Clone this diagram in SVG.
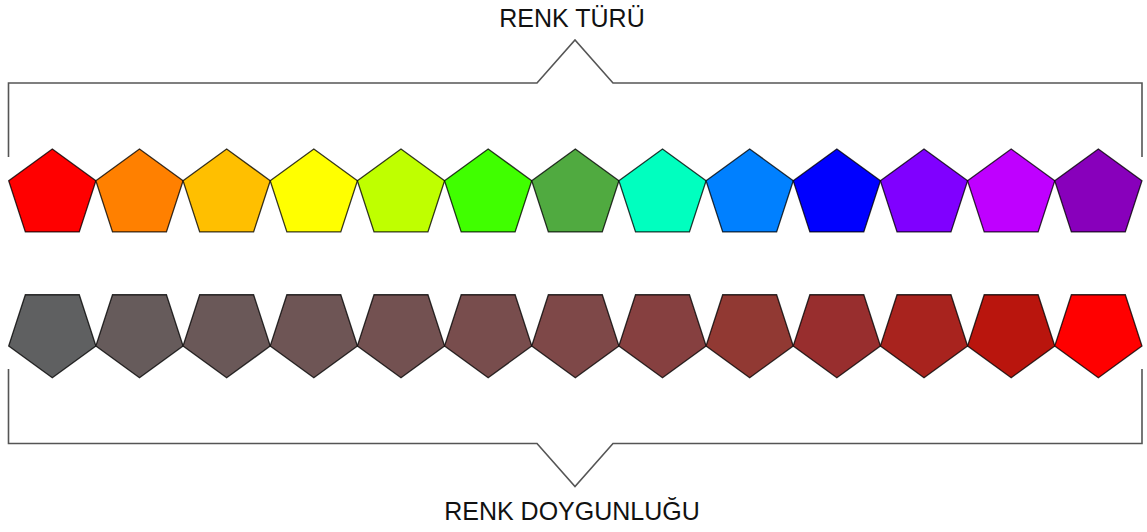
<svg xmlns="http://www.w3.org/2000/svg" xmlns:xlink="http://www.w3.org/1999/xlink" width="1147" height="532" viewBox="0 0 1147 532">
  <style>
    .pent { stroke: #000; stroke-opacity: 0.78; stroke-width: 1.3; stroke-linejoin: miter; }
    .brk { fill: none; stroke: #555; stroke-width: 1.6; }
    .lbl { font-family: "Liberation Sans", Arial, sans-serif; font-size: 25px; fill: #111; text-anchor: middle; }
  </style>
  <defs>
    <path id="up" d="M0,-45.85 L43.61,-14.17 L26.95,37.09 L-26.95,37.09 L-43.61,-14.17 Z"/>
    <path id="down" d="M0,45.85 L43.61,14.17 L26.95,-37.09 L-26.95,-37.09 L-43.61,14.17 Z"/>
  </defs>
  <rect width="1147" height="532" fill="#fff"/>

  <g id="connectors">
    <path class="brk" d="M8.5,157 V83 H537 L575,40 L613,83 H1142 V157"/>
    <path class="brk" d="M8.5,369 V443.5 H537 L575,486.5 L613,443.5 H1142 V369"/>
  </g>

  <g id="label-top"><text class="lbl" x="572" y="27">RENK TÜRÜ</text></g>
  <g id="label-bottom"><text class="lbl" x="572" y="520">RENK DOYGUNLUĞU</text></g>

  <g id="hue-row">
    <g id="hue1"><use xlink:href="#up" class="pent" fill="#ff0000" x="52.3" y="194.85"/></g>
    <g id="hue2"><use xlink:href="#up" class="pent" fill="#ff8000" x="139.47" y="194.85"/></g>
    <g id="hue3"><use xlink:href="#up" class="pent" fill="#ffbf00" x="226.64" y="194.85"/></g>
    <g id="hue4"><use xlink:href="#up" class="pent" fill="#ffff00" x="313.81" y="194.85"/></g>
    <g id="hue5"><use xlink:href="#up" class="pent" fill="#bfff00" x="400.98" y="194.85"/></g>
    <g id="hue6"><use xlink:href="#up" class="pent" fill="#40ff00" x="488.15" y="194.85"/></g>
    <g id="hue7"><use xlink:href="#up" class="pent" fill="#50aa40" x="575.32" y="194.85"/></g>
    <g id="hue8"><use xlink:href="#up" class="pent" fill="#00ffbf" x="662.49" y="194.85"/></g>
    <g id="hue9"><use xlink:href="#up" class="pent" fill="#0080ff" x="749.66" y="194.85"/></g>
    <g id="hue10"><use xlink:href="#up" class="pent" fill="#0000ff" x="836.83" y="194.85"/></g>
    <g id="hue11"><use xlink:href="#up" class="pent" fill="#8000ff" x="924" y="194.85"/></g>
    <g id="hue12"><use xlink:href="#up" class="pent" fill="#bf00ff" x="1011.17" y="194.85"/></g>
    <g id="hue13"><use xlink:href="#up" class="pent" fill="#8800bb" x="1098.34" y="194.85"/></g>
  </g>

  <g id="saturation-row">
    <g id="sat1"><use xlink:href="#down" class="pent" fill="#5f6061" x="52.3" y="331.85"/></g>
    <g id="sat2"><use xlink:href="#down" class="pent" fill="#665b5b" x="139.47" y="331.85"/></g>
    <g id="sat3"><use xlink:href="#down" class="pent" fill="#6a5858" x="226.64" y="331.85"/></g>
    <g id="sat4"><use xlink:href="#down" class="pent" fill="#6e5555" x="313.81" y="331.85"/></g>
    <g id="sat5"><use xlink:href="#down" class="pent" fill="#735151" x="400.98" y="331.85"/></g>
    <g id="sat6"><use xlink:href="#down" class="pent" fill="#784d4d" x="488.15" y="331.85"/></g>
    <g id="sat7"><use xlink:href="#down" class="pent" fill="#7e4848" x="575.32" y="331.85"/></g>
    <g id="sat8"><use xlink:href="#down" class="pent" fill="#864040" x="662.49" y="331.85"/></g>
    <g id="sat9"><use xlink:href="#down" class="pent" fill="#913933" x="749.66" y="331.85"/></g>
    <g id="sat10"><use xlink:href="#down" class="pent" fill="#982e2e" x="836.83" y="331.85"/></g>
    <g id="sat11"><use xlink:href="#down" class="pent" fill="#a8231e" x="924" y="331.85"/></g>
    <g id="sat12"><use xlink:href="#down" class="pent" fill="#b9150d" x="1011.17" y="331.85"/></g>
    <g id="sat13"><use xlink:href="#down" class="pent" fill="#ff0000" x="1098.34" y="331.85"/></g>
  </g>
</svg>
